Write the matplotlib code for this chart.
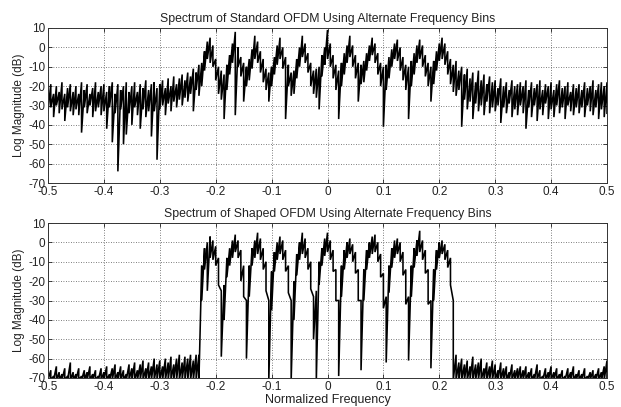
import numpy as np
import matplotlib
matplotlib.use("Agg")
import matplotlib.pyplot as plt

plt.rcParams['font.family'] = ['Liberation Sans', 'DejaVu Sans']

# Normalized frequency grid (201 bins, step 0.005)
freq = np.linspace(-0.5, 0.5, 201)

# ---- Top panel: Standard OFDM (upper / lower extent of the trace, dB) ----
top_hi = [
    -22, -19, -24, -20, -23, -18, -24, -21, -19, -23,
    -20, -24, -18, -22, -19, -24, -21, -18, -23, -20,
    -19, -23, -20, -18, -24, -19, -22, -20, -18, -23,
    -20, -18, -23, -19, -21, -17, -22, -19, -18, -21,
    -19, -17, -21, -16, -20, -15, -19, -16, -14, -17,
    -13, -15, -11, -13, -9, -8, -2, 3, 5, 1,
    -6, -10, -12, -14, -9, -4, 2, 8, 0, -5,
    -8, -10, -6, -1, 6, 3, -2, -6, -11, -13,
    -10, -5, 1, 5, 0, -5, -9, -13, -12, -6,
    0, 6, 2, -3, -8, -12, -11, -10, -4, 0,
    9, 2, -4, -9, -12, -8, -3, 1, 6, 1,
    -4, -8, -9, -7, -3, 1, 5, 2, -3, -8,
    -10, -9, -5, -1, 2, 4, 0, -5, -9, -10,
    -7, -3, 1, 4, 1, -4, -8, -10, -7, -2,
    2, 5, 2, -2, -6, -9, -7, -12, -10, -14,
    -11, -16, -13, -18, -12, -17, -14, -19, -15, -18,
    -17, -21, -16, -20, -18, -22, -17, -20, -19, -18,
    -20, -17, -22, -18, -21, -19, -17, -22, -19, -20,
    -18, -22, -19, -17, -21, -20, -18, -23, -19, -21,
    -19, -22, -18, -21, -20, -17, -22, -19, -18, -20,
    -18,
]
top_lo = [
    -33, -31, -36, -30, -34, -32, -38, -31, -33, -35,
    -32, -35, -44, -31, -34, -30, -36, -33, -31, -35,
    -33, -42, -31, -49, -34, -64, -32, -50, -45, -34,
    -40, -31, -35, -42, -32, -36, -33, -46, -33, -58,
    -32, -30, -35, -29, -33, -28, -31, -27, -30, -26,
    -28, -24, -33, -22, -25, -20, -12, -6, -8, -10,
    -17, -24, -27, -37, -22, -14, -8, -35, -10, -15,
    -28, -20, -17, -11, -6, -8, -13, -18, -22, -28,
    -20, -14, -9, -6, -11, -37, -20, -25, -24, -16,
    -10, -5, -8, -13, -20, -24, -26, -32, -15, -9,
    -6, -10, -16, -22, -37, -20, -14, -8, -5, -10,
    -16, -28, -19, -18, -12, -7, -4, -8, -14, -20,
    -41, -22, -16, -10, -6, -7, -12, -17, -22, -37,
    -20, -14, -8, -6, -10, -15, -20, -28, -19, -12,
    -7, -6, -9, -14, -19, -23, -25, -22, -41, -27,
    -32, -28, -37, -29, -33, -30, -35, -28, -34, -31,
    -33, -30, -39, -31, -34, -29, -36, -32, -35, -30,
    -34, -42, -31, -36, -30, -38, -32, -35, -29, -37,
    -32, -36, -30, -34, -31, -37, -30, -33, -35, -31,
    -34, -31, -36, -30, -33, -35, -31, -37, -32, -36,
    -34,
]

# ---- Bottom panel: Shaped OFDM ----
bot_hi = [
    -68, -66, -69, -64, -67, -68, -65, -69, -62, -67,
    -68, -65, -69, -66, -67, -64, -68, -66, -69, -65,
    -67, -64, -68, -65, -63, -67, -64, -66, -68, -63,
    -65, -62, -66, -63, -61, -65, -62, -64, -60, -63,
    -61, -64, -60, -62, -59, -63, -60, -58, -62, -59,
    -60, -58, -61, -58, -58, -12, -3, 0, 3, 1,
    -2, -8, -25, -22, -8, -3, 1, 4, 1, -4,
    -12, -30, -12, -3, 1, 5, 2, -3, -10, -30,
    -15, -5, 0, 3, 1, -4, -12, -30, -20, -6,
    0, 5, 2, -3, -10, -28, -25, -10, -3, 2,
    5, 1, -4, -14, -30, -12, -4, 0, 2, -1,
    -5, -14, -30, -14, -4, 0, 3, 4, 0, -6,
    -16, -28, -12, -3, 1, 2, 0, -5, -14, -28,
    -12, -3, 1, 6, 1, -4, -14, -30, -14, -4,
    0, 1, -1, -4, -8, -30, -58, -62, -60, -63,
    -61, -64, -59, -63, -62, -60, -65, -62, -64, -61,
    -63, -66, -62, -65, -64, -67, -63, -66, -65, -64,
    -66, -64, -67, -65, -68, -63, -66, -69, -65, -67,
    -64, -67, -65, -68, -66, -69, -65, -67, -64, -68,
    -66, -68, -65, -69, -67, -66, -68, -65, -67, -64,
    -61,
]
bot_lo = [
    -71, -71, -71, -71, -71, -71, -71, -71, -71, -71,
    -71, -71, -71, -71, -71, -71, -71, -71, -71, -71,
    -71, -71, -71, -71, -71, -71, -71, -71, -71, -71,
    -71, -71, -71, -71, -71, -71, -71, -71, -71, -71,
    -71, -71, -71, -71, -71, -71, -71, -71, -71, -71,
    -71, -71, -71, -71, -71, -30, -14, -25, -8, -9,
    -12, -22, -59, -40, -18, -12, -8, -5, -8, -20,
    -28, -60, -28, -12, -8, -6, -9, -14, -25, -71,
    -35, -15, -9, -6, -9, -15, -26, -71, -40, -17,
    -9, -6, -8, -14, -24, -50, -71, -22, -12, -7,
    -5, -9, -15, -30, -69, -28, -14, -8, -6, -10,
    -16, -30, -66, -30, -14, -8, -6, -5, -10, -18,
    -34, -62, -26, -13, -8, -6, -10, -17, -32, -61,
    -28, -13, -7, -5, -9, -16, -32, -65, -30, -14,
    -8, -6, -9, -13, -22, -71, -71, -71, -71, -71,
    -71, -71, -71, -71, -71, -71, -71, -71, -71, -71,
    -71, -71, -71, -71, -71, -71, -71, -71, -71, -71,
    -71, -71, -71, -71, -71, -71, -71, -71, -71, -71,
    -71, -71, -71, -71, -71, -71, -71, -71, -71, -71,
    -71, -71, -71, -71, -71, -71, -71, -71, -71, -71,
    -71,
]

xticks = [-0.5, -0.4, -0.3, -0.2, -0.1, 0, 0.1, 0.2, 0.3, 0.4, 0.5]
xtick_labels = ["-0.5", "-0.4", "-0.3", "-0.2", "-0.1", "0",
                "0.1", "0.2", "0.3", "0.4", "0.5"]
yticks = [-70, -60, -50, -40, -30, -20, -10, 0, 10]
ytick_labels = ["-70", "-60", "-50", "-40", "-30", "-20", "-10", "0", "10"]

titles = ["Spectrum of Standard OFDM Using Alternate Frequency Bins",
          "Spectrum of Shaped OFDM Using Alternate Frequency Bins"]
ylabel = "Log Magnitude (dB)"
xlabel = "Normalized Frequency"

W, H = 621, 407
fig = plt.figure(figsize=(W / 100, H / 100), dpi=100)
left = 48 / W
width = (607 - 48) / W
ax_top = fig.add_axes([left, 1 - 183 / H, width, 155 / H])
ax_bot = fig.add_axes([left, 1 - 378 / H, width, 155 / H])


def trace(ax, hi, lo):
    hi = np.asarray(hi, float)
    lo = np.asarray(lo, float)
    xs = np.repeat(freq, 2)
    ys = np.empty(2 * len(freq))
    ys[0::2] = hi
    ys[1::2] = lo
    ax.plot(xs, ys, color='#000000', lw=1.15, solid_joinstyle='miter')


for ax, hi, lo, title in [(ax_top, top_hi, top_lo, titles[0]),
                          (ax_bot, bot_hi, bot_lo, titles[1])]:
    trace(ax, hi, lo)
    ax.set_xlim(-0.5, 0.5)
    ax.set_ylim(-70, 10)
    ax.set_xticks(xticks)
    ax.set_xticklabels(xtick_labels)
    ax.set_yticks(yticks)
    ax.set_yticklabels(ytick_labels)
    ax.grid(True, linestyle=(0, (1, 2)), color='#555555', lw=0.6)
    ax.tick_params(direction='in', length=3, width=0.6, labelsize=8.5,
                   top=True, right=True, pad=2, colors='#222222')
    for s in ax.spines.values():
        s.set_linewidth(0.7)
        s.set_color('#333333')
    ax.set_title(title, fontsize=8.8, pad=4, color='#222222')
    ax.set_ylabel(ylabel, fontsize=8.5, labelpad=2, color='#222222')

ax_bot.set_xlabel(xlabel, fontsize=9, labelpad=1, color='#222222')

fig.savefig("out.png", dpi=100)
